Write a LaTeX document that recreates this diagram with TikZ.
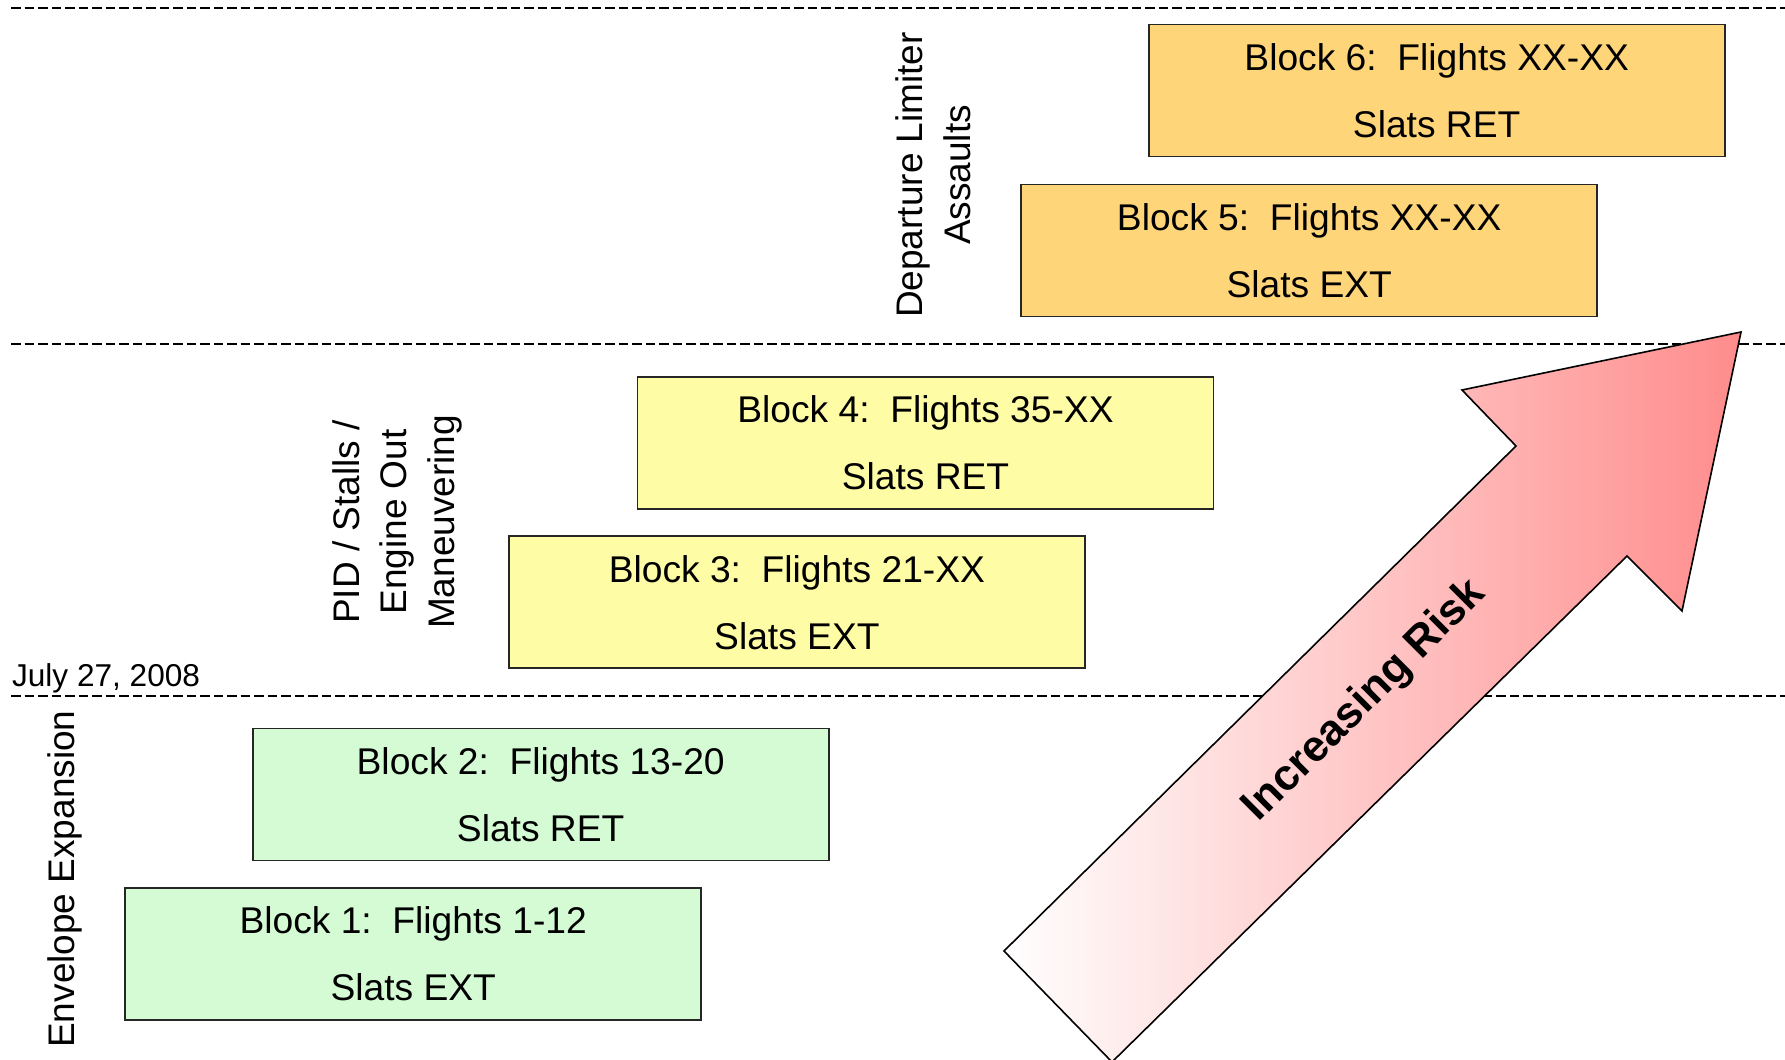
\documentclass[tikz,border=0pt]{standalone}
\usepackage{fontspec}
\setmainfont{Liberation Sans}
\definecolor{greenfill}{RGB}{212,251,212}
\definecolor{yellowfill}{RGB}{255,252,166}
\definecolor{orangefill}{RGB}{255,213,122}
\definecolor{riskpink}{RGB}{255,140,140}
\tikzset{
  blockbox/.style={draw=black!85, line width=0.8pt, minimum width=288pt, minimum height=66pt,
    inner sep=0pt, align=center, font=\fontsize{18.6pt}{33.5pt}\selectfont},
  sidelabel/.style={rotate=90, anchor=base, align=center, inner sep=0pt,
    font=\fontsize{18.5pt}{23.6pt}\selectfont},
  sepline/.style={draw=black, line width=1pt, dash pattern=on 4.75pt off 2pt},
  riskarrow/.style={draw=black, line width=0.8pt, left color=white, right color=riskpink},
}
\begin{document}
\begin{tikzpicture}[x=0.5pt,y=-0.5pt]
\useasboundingbox (0,0) rectangle (1785,1060);
% separator lines
\coordinate (s1a) at (11,8.3);   \coordinate (s1b) at (1785,8.3);
\coordinate (s2a) at (11,344);   \coordinate (s2b) at (1785,344);
\coordinate (s3a) at (11,696);   \coordinate (s3b) at (1785,696);
\draw[sepline] (s1a) -- (s1b);
\draw[sepline] (s2a) -- (s2b);
\draw[sepline] (s3a) -- (s3b);
% blocks
\node[blockbox, fill=greenfill]  (b1) at (413.2,954)  {Block 1:\ \ Flights 1-12\\Slats EXT};
\node[blockbox, fill=greenfill]  (b2) at (540.7,794.6) {Block 2:\ \ Flights 13-20\\Slats RET};
\node[blockbox, fill=yellowfill] (b3) at (796.9,602.2) {Block 3:\ \ Flights 21-XX\\Slats EXT};
\node[blockbox, fill=yellowfill] (b4) at (925.5,442.8) {Block 4:\ \ Flights 35-XX\\Slats RET};
\node[blockbox, fill=orangefill] (b5) at (1309.2,250.4) {Block 5:\ \ Flights XX-XX\\Slats EXT};
\node[blockbox, fill=orangefill] (b6) at (1436.7,90.5) {Block 6:\ \ Flights XX-XX\\Slats RET};
% side labels
\node[sidelabel] (envlabel) at (74,879) {Envelope Expansion};
\node[sidelabel] (pidlabel) at (454,522) {PID / Stalls /\\Engine Out\\Maneuvering};
\node[sidelabel] (deplabel) at (970,175) {Departure Limiter\\Assaults};
\node[anchor=base west, inner sep=0pt, font=\fontsize{15.8pt}{19pt}\selectfont] (datelabel) at (11.7,686.7) {July 27, 2008};
% risk arrow
\path[riskarrow] (1741,332) -- (1682,611) -- (1627,556) -- (1112,1062) -- (1004,951)
  -- (1516,446) -- (1462,390) -- cycle;
\node[rotate=45, inner sep=0pt, font=\fontsize{21.8pt}{26pt}\selectfont\bfseries] (risklabel) at (1365,701) {Increasing Risk};
\end{tikzpicture}
\end{document}
